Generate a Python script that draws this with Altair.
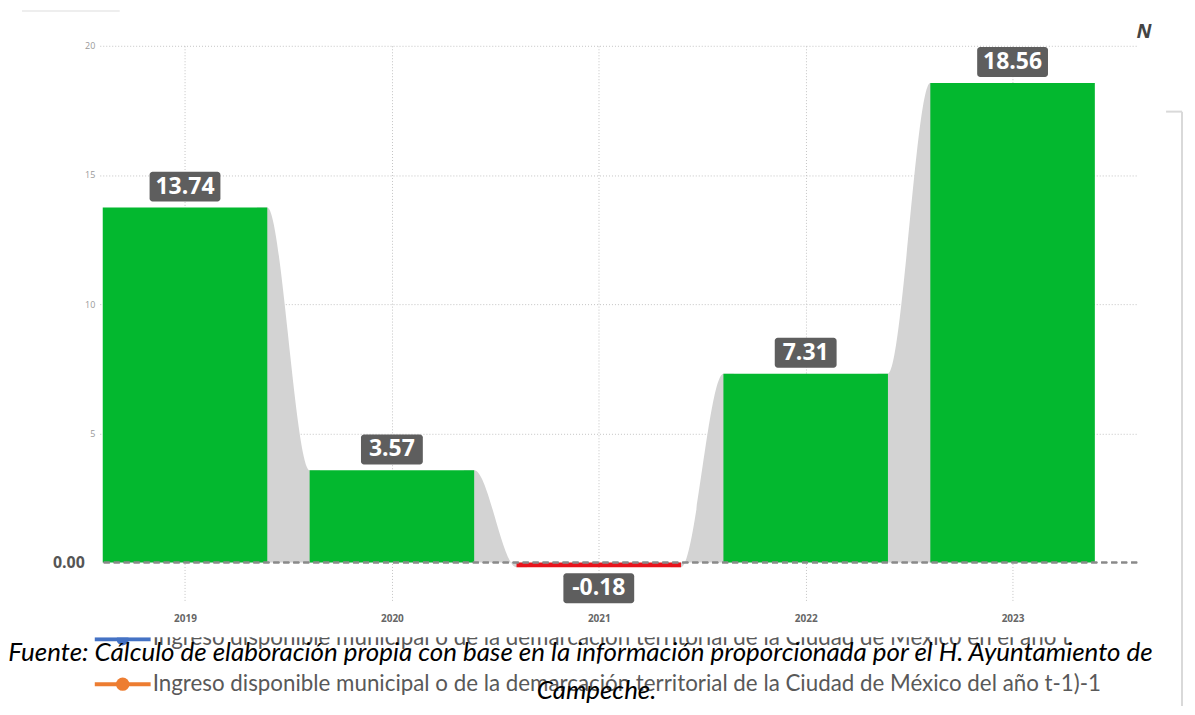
import altair as alt
import pandas as pd
import numpy as np

# ---------------- data ----------------
years = [2019, 2020, 2021, 2022, 2023]
values = [13.74, 3.57, -0.18, 7.31, 18.56]
labels = ["13.74", "3.57", "-0.18", "7.31", "18.56"]
y_ticks = [5, 10, 15, 20]

legend_line1 = "Ingreso disponible municipal o de la demarcación territorial  de la Ciudad de México en el año t"
legend_line2 = "Ingreso disponible municipal o de la demarcación territorial de la Ciudad de México del año t-1)-1"
source_line1 = "Fuente: Cálculo de elaboración propia con base en la información proporcionada por el H. Ayuntamiento de"
source_line2 = "Campeche."

# ---------------- styling ----------------
GREEN = "#03b82f"
RED = "#e8141c"
CONNECT = "#d3d3d3"
BOX = "#5e5e5e"
GRID = "#c4c4c4"
HALF = 0.3976  # half bar width, in category units
W, H = 1040, 557

x_scale = alt.Scale(domain=[2018.588, 2023.602], nice=False, zero=False)
y_scale = alt.Scale(domain=[-1.5, 20], nice=False, zero=False)

bars_df = pd.DataFrame({"year": years, "value": values, "label": labels})
bars_df["x0"] = bars_df["year"] - HALF
bars_df["x1"] = bars_df["year"] + HALF
bars_df["sign"] = np.where(bars_df["value"] >= 0, "pos", "neg")


def box_path(w, h=30.0, r=3.0, s=30.0):
    hw, hh, rr = w / 2 / s, h / 2 / s, r / s
    return (f"M{-hw+rr:.4f},{-hh:.4f} L{hw-rr:.4f},{-hh:.4f} A{rr:.4f},{rr:.4f} 0 0 1 {hw:.4f},{-hh+rr:.4f} "
            f"L{hw:.4f},{hh-rr:.4f} A{rr:.4f},{rr:.4f} 0 0 1 {hw-rr:.4f},{hh:.4f} "
            f"L{-hw+rr:.4f},{hh:.4f} A{rr:.4f},{rr:.4f} 0 0 1 {-hw:.4f},{hh-rr:.4f} "
            f"L{-hw:.4f},{-hh+rr:.4f} A{rr:.4f},{rr:.4f} 0 0 1 {-hw+rr:.4f},{-hh:.4f} Z")


bars_df["path"] = [box_path(71 if len(l) >= 5 else 62) for l in labels]

# connectors between bars (smooth transitions from one bar top to the next)
rows = []
for i in range(len(years) - 1):
    xr = years[i] + HALF
    xl = years[i + 1] - HALF
    for xv, vv in [(xr - 0.05, values[i]), (xr, values[i]), (xl, values[i + 1]), (xl + 0.05, values[i + 1])]:
        rows.append({"seg": i, "x": xv, "v": vv})
conn_df = pd.DataFrame(rows)

x_axis = alt.Axis(values=years, format="d", title=None, domain=False, ticks=False,
                  labelFont="Open Sans", labelFontSize=10, labelFontWeight="bold",
                  labelColor="#666666", labelPadding=12,
                  grid=True, gridDash=[1, 2], gridColor=GRID, gridWidth=1)
y_axis = alt.Axis(values=y_ticks, title=None, domain=False, ticks=False,
                  labelFont="Open Sans", labelFontSize=9, labelColor="#999999", labelPadding=5,
                  grid=True, gridDash=[1, 2], gridColor=GRID, gridWidth=1)


def X(field):
    return alt.X(field, scale=x_scale, axis=x_axis)


def Y(field):
    return alt.Y(field, scale=y_scale, axis=y_axis)


connectors = alt.Chart(conn_df).mark_area(interpolate="monotone", color=CONNECT).encode(
    x=X("x:Q"), y=Y("v:Q"), y2=alt.datum(0), detail="seg:N",
)

bars = alt.Chart(bars_df).mark_bar().encode(
    x=X("x0:Q"), x2="x1:Q", y=Y("value:Q"), y2=alt.datum(0),
    color=alt.Color("sign:N", scale=alt.Scale(domain=["pos", "neg"], range=[GREEN, RED]), legend=None),
)

zero_rule = alt.Chart(bars_df).mark_rule(color="#8a8a8a", strokeDash=[6, 4], strokeWidth=1.5).encode(
    y=alt.Y(datum=0, scale=y_scale, axis=y_axis)
)

zero_label = alt.Chart(pd.DataFrame({"t": ["0.00"]})).mark_text(
    align="right", baseline="middle", font="Open Sans", fontSize=16, fontWeight="bold", color="#555555"
).encode(x=alt.value(-15), y=alt.Y(datum=0, scale=y_scale, axis=y_axis), text="t:N")


def label_layers(sign, off):
    src = alt.Chart(bars_df).transform_filter(alt.datum.sign == sign)
    box = src.mark_point(filled=True, opacity=1, color=BOX, strokeWidth=0, size=3600, yOffset=off).encode(
        x=X("year:Q"), y=Y("value:Q"),
        shape=alt.Shape("path:N", scale=None, legend=None),
    )
    txt = src.mark_text(dy=off, font="Open Sans", fontSize=23, fontWeight="bold", color="white",
                        baseline="middle", align="center").encode(
        x=X("year:Q"), y=Y("value:Q"), text="label:N",
    )
    return [box, txt]


one = pd.DataFrame({"a": [0]})


def note(text, x, y, **kw):
    return alt.Chart(pd.DataFrame({"t": [text]})).mark_text(baseline="alphabetic", **kw).encode(
        x=alt.value(x), y=alt.value(y), text="t:N")


line1 = note(legend_line1, 53, 601, align="left", font="Lato", fontSize=22.4, color="#595959")
blue_line = alt.Chart(one).mark_rule(color="#4472c4", strokeWidth=4).encode(
    x=alt.value(-5), x2=alt.value(51), y=alt.value(595))
blue_dot = alt.Chart(one).mark_point(filled=True, opacity=1, color="#4472c4", size=150).encode(
    x=alt.value(23), y=alt.value(595))
cover = alt.Chart(one).mark_rect(color="white").encode(
    x=alt.value(-20), x2=alt.value(1080), y=alt.value(583), y2=alt.value(593))
line2 = note(legend_line2, 53, 647, align="left", font="Lato", fontSize=22.4, color="#595959")
orange_line = alt.Chart(one).mark_rule(color="#ed7d31", strokeWidth=4).encode(
    x=alt.value(-5), x2=alt.value(51), y=alt.value(640))
orange_dot = alt.Chart(one).mark_point(filled=True, opacity=1, color="#ed7d31", size=180).encode(
    x=alt.value(23), y=alt.value(640))
src1 = note(source_line1, 482, 617, align="center", font="Lato", fontSize=26, fontStyle="italic", color="black")
src2 = note(source_line2, 498, 655, align="center", font="Lato", fontSize=26, fontStyle="italic", color="black")

n_mark = note("N", 1047, -8, align="center", font="Open Sans", fontSize=20, fontWeight="bold",
              fontStyle="italic", color="#444444")
frame_v = alt.Chart(one).mark_rule(color="#d9d9d9", strokeWidth=2).encode(
    x=alt.value(1085), y=alt.value(66), y2=alt.value(662))
frame_h = alt.Chart(one).mark_rule(color="#d9d9d9", strokeWidth=2).encode(
    x=alt.value(1069), x2=alt.value(1085), y=alt.value(66))
faint = alt.Chart(one).mark_rule(color="#eeeeee", strokeWidth=2).encode(
    x=alt.value(-78), x2=alt.value(20), y=alt.value(-35))

chart = alt.layer(
    connectors, bars, zero_rule, zero_label,
    *label_layers("pos", -21), *label_layers("neg", 21),
    line1, blue_line, blue_dot, cover, line2, orange_line, orange_dot, src1, src2,
    n_mark, frame_v, frame_h, faint,
).properties(
    width=W, height=H, autosize="none", background="white",
    padding={"left": 92, "top": 37, "right": 50, "bottom": 105},
).configure_view(stroke=None)

chart.save("out.html", embed_options={"renderer": "svg", "actions": False})
